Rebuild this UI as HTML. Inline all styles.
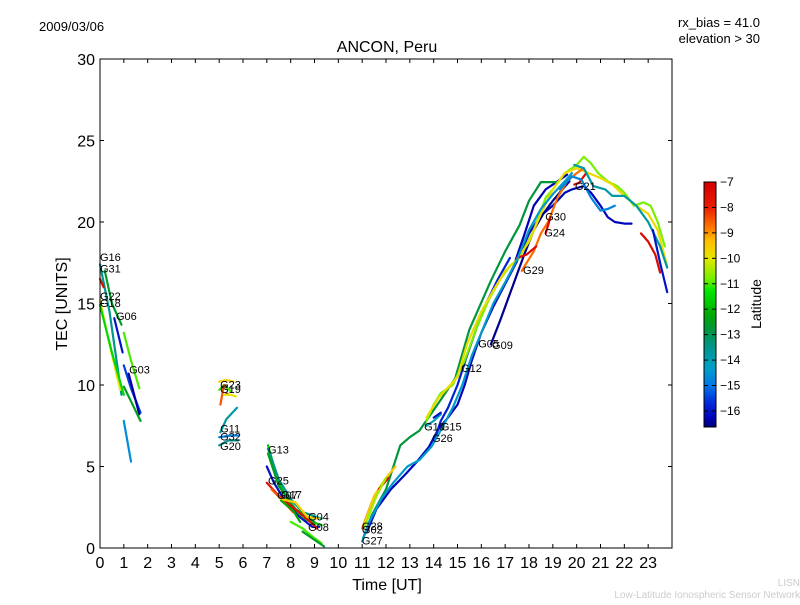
<!DOCTYPE html>
<html><head><meta charset="utf-8"><style>
body{margin:0;background:#fff;}
svg text{font-family:"Liberation Sans","DejaVu Sans",sans-serif;}
</style></head><body>
<svg id="chart" width="800" height="600" xmlns="http://www.w3.org/2000/svg">
<rect width="800" height="600" fill="#fff"/>
<text x="39" y="31" font-size="13">2009/03/06</text>
<text x="760" y="27" font-size="13" text-anchor="end">rx_bias = 41.0</text>
<text x="760" y="43" font-size="13" text-anchor="end">elevation &gt; 30</text>
<text x="387" y="52" font-size="16" text-anchor="middle">ANCON, Peru</text>
<text x="387" y="590" font-size="16" text-anchor="middle">Time [UT]</text>
<text transform="translate(67,304) rotate(-90)" font-size="16" text-anchor="middle">TEC [UNITS]</text>
<g id="marks"></g>
<rect x="100" y="59" width="572" height="489" fill="none" stroke="#000" stroke-width="1"/>
<g id="axes"></g>
<g id="cbar"></g>
<text transform="translate(761,304) rotate(-90)" font-size="14" text-anchor="middle">Latitude</text>
<text x="800" y="586" font-size="10" fill="#ccc" text-anchor="end">LISN</text>
<text x="800" y="598" font-size="10" fill="#ccc" text-anchor="end">Low-Latitude Ionospheric Sensor Network</text>
</svg>
<script>
const xTicks=[0,1,2,3,4,5,6,7,8,9,10,11,12,13,14,15,16,17,18,19,20,21,22,23];
const yTicks=[0,5,10,15,20,25,30];
const cbTicks=[-7,-8,-9,-10,-11,-12,-13,-14,-15,-16];
const latRange=[-16.63,-7];
const trackLats=[-13.5,-7.5,-12.6,-10,-11.5,-16,-11,-15.5,-16.4,-12.5,-14.6,
 -9.6,-11,-8.5,-7.4,-10,-13.8,-14.8,-13.6,
 -11.7,-13.5,-12.5,-16,-7.5,-8.5,-9.6,-11,-12.2,-12.6,
 -16.2,-16.5,-15.8,-16.3,-12.8,-10.8,-9.8,-8.7,-7.3,-7.3,-7.3,-7.3,-13.8,-16,-14.8,-8.6,-9.5,-7.5,-10.5,-14.4,-14.2,-16];
const trackT=[
[0,0.4,0.9],[0,0.15],[0.2,0.5,0.9],[0,0.4,0.85],[0,0.5,1.0],[0.6,0.95],[1.0,1.3,1.65],[1.0,1.3,1.7],[1.2,1.65],[1.0,1.3,1.7],[1.0,1.3],
[5.0,5.3,5.6],[5.0,5.2,5.5],[5.05,5.2],[5.3,5.4],[5.2,5.5,5.7],[5.05,5.3,5.75],[5.0,5.5,5.8],[5.0,5.4,5.8],
[7.05,7.5,8.0,8.5,9.3],[7.05,7.5,8,8.5,9.3],[7.05,7.5,8.2,9.0],[7.0,7.3,7.8,8.3,8.9,9.2],[7.0,7.5,8,8.5,8.9,9.1],[7.2,7.6,8.1],[7.6,8.2,8.7,9.2],[8.0,8.5,9.0,9.3],[7.6,8.1,8.4],[8.5,9,9.4],
[11.2,11.6,12.2,12.8,13.3,13.8,14.2,14.6,15,15.3,15.6,16,16.5,17,17.5,18,18.5,19,19.5,19.8,20.3,20.6,21,21.3,21.6,22,22.3],
[16.4,16.8,17.3,17.8,18.2,18.6,19,19.4,19.7],
[14,14.3,14.6,15,15.4,15.8,16.2,16.7,17.2],
[17.4,17.8,18.2,18.7,19.2,19.6],
[11.04,11.4,12,12.6,13,13.4,14.3,14.9,15.5,16.4,17,17.6,18,18.5,19.2],
[13.7,14,14.3,14.8,15.3,15.8,16.3,16.8,17.2,17.6,18.2,18.7,19,19.5,20,20.3,20.6,20.9,21.3,21.7,22,22.4,22.8,23.1,23.4,23.7],
[13.7,14.2,14.7,15,15.4,16,16.5,17,17.5,18,18.5,19,19.5,20,20.5,21,21.5,22,22.5,23,23.4,23.8],
[17.7,17.9,18.2,18.5,18.8,19.2,19.6,20,20.3],
[17.5,17.9,18.3],[18.7,18.9],[19.9,20.1,20.4],[22.7,23,23.3,23.5],
[19.9,20.3,20.7,21.2,21.5,22,22.5,23,23.5,23.8],
[23.2,23.5,23.8],
[19.3,19.8,20.2,20.6,21,21.3,21.6],
[11.0,11.4,11.8,12.1],[11.1,11.5,12.0,12.4],[11.7,12.1],[11.1,11.6,12.0],
[11.0,11.3,11.8,12.3,12.9,13.4,13.9,14.4,14.8,15.2,15.6,16,16.5,17,17.5,18,18.5,19,19.5,19.8],
[13.7,14,14.3],[14,14.3]];
const trackV=[
[17.4,14.5,9.4],[16.5,16],[17,15,13.7],[15.2,12.5,9.7],[14.9,12,9.4],[14.1,12],[13.2,11.5,9.8],[11.2,9.8,8.3],[10.7,8.2],[9.9,9,7.8],[7.8,5.3],
[10.2,10.3,10.2],[9.7,10,9.6],[8.8,10],[9.5,9.4],[9.4,9.4,9.3],[7.1,7.9,8.6],[6.8,6.9,6.9],[6.3,6.6,6.6],
[6.3,4,2.6,1.8,1.4],[6.1,4.2,3,2.2,1.8],[5.8,3.8,2.4,1.6],[5,4,2.8,2.0,1.3,1.3],[4,3.2,2.6,2,1.5,1.2],[3.6,3,2.2],[3,2.8,1.9,1.8],[1.6,1.2,0.6,0.3],[2.9,2.3,1.6],[1,0.5,0.1],
[1,2.4,3.6,4.5,5.3,6.2,7.3,8,8.8,10,11.5,13.2,14.8,16.2,17.6,19.3,20.4,21,21.8,22,22.2,21.8,21,20.3,20,19.9,19.9],
[12.5,14,16,18,19.5,20.5,21.3,22,22.5],
[6.5,7.8,8.6,10,11.8,13.5,15,16.5,17.8],
[17.5,19.2,21,22,22.5,22.9],
[0.6,2,3.6,6.3,6.8,7.2,9.1,10.4,13.4,16.4,18.2,19.8,21.3,22.45,22.45],
[7.8,8.8,9.5,10,11.5,13.5,15.2,16.5,17.3,17.8,19.5,21.5,22,23,23.5,24,23.6,23,22.5,22.2,21.8,21,21.2,21,20,18.5],
[8,9.2,10,10.5,12.5,14.5,15.8,17,17.7,18.8,20.5,22,23,23.3,23,22.7,22.3,21.6,21,20.5,19.5,17.3],
[17,17.5,18.2,19.3,20,21.5,22.5,23,23.3],
[17.8,18,18.5],[19.3,20.3],[22.3,22.4,23],[19.3,18.8,18,16.9],
[23.5,23.3,22.2,22,21.6,21.6,21,20,18.5,17.2],
[19.5,17.5,15.7],
[22,22.8,22.6,21.5,20.7,20.8,21],
[1.2,2.8,3.8,4.3],[1.5,3.2,4.3,5],[3.6,4.3],[1.3,3.2,4.3],
[0.4,1.6,3,4,5,5.4,6.2,7.5,8.6,10,11.8,13.2,15,16.3,17.7,19.5,20.8,21.7,22.5,23],
[7.5,7.8,8.2],[8,8.3]];
const labelNames=["G16","G31","G22","G18","G06","G03","G23","G19","G11","G32","G20","G13","G25","G07","G17","G04","G08","G28","G02","G27","G10","G15","G26","G12","G05","G09","G29","G24","G30","G21"];
const labelT=[0,0,0,0,0.67,1.22,5.04,5.04,5.04,5.04,5.04,7.05,7.05,7.43,7.6,8.73,8.73,10.99,10.99,10.99,13.6,14.3,13.93,15.15,15.87,16.45,17.75,18.64,18.68,19.93];
const labelV=[17.6,16.9,15.2,14.8,14.0,10.7,9.8,9.5,7.1,6.6,6.0,5.8,3.9,3.0,3.05,1.7,1.03,1.1,0.9,0.2,7.2,7.2,6.5,10.8,12.3,12.2,16.8,19.1,20.1,21.95];

const NS="http://www.w3.org/2000/svg";
const X0=100,X1=672,Y0=548,Y1=59;
function sx(t){return X0+(t/24)*(X1-X0);}
function sy(v){return Y0-(v/30)*(Y0-Y1);}
const CB_TOP=182,CB_BOT=427;
function sc(l){return CB_BOT-(l-latRange[0])/(latRange[1]-latRange[0])*(CB_BOT-CB_TOP);}
const stops=[[-16.63,[0,0,120]],[-16.3,[0,0,180]],[-15.7,[0,40,220]],[-15,[0,120,230]],[-14.3,[0,160,200]],[-13.5,[0,150,140]],[-12.8,[0,150,60]],[-12.2,[0,170,0]],[-11.3,[0,230,0]],[-10.8,[120,240,0]],[-10,[230,230,0]],[-9.3,[255,190,0]],[-8.8,[255,120,0]],[-8,[235,30,0]],[-7,[210,0,0]]];
function latColor(l){
 if(l<=stops[0][0])return `rgb(${stops[0][1]})`;
 for(let i=1;i<stops.length;i++){
  if(l<=stops[i][0]){const a=stops[i-1],b=stops[i];const f=(l-a[0])/(b[0]-a[0]);
   const c=a[1].map((v,k)=>Math.round(v+(b[1][k]-v)*f));return `rgb(${c})`;}
 }
 return `rgb(${stops[stops.length-1][1]})`;
}
function mk(tag,attrs,parent){const e=document.createElementNS(NS,tag);for(const k in attrs)e.setAttribute(k,attrs[k]);parent.appendChild(e);return e;}

const marks=document.getElementById('marks');
for(let i=0;i<trackT.length;i++){
 const pts=trackT[i].map((t,j)=>sx(t).toFixed(1)+','+sy(trackV[i][j]).toFixed(1)).join(' ');
 const p=mk('polyline',{points:pts,fill:'none',stroke:latColor(trackLats[i]),'stroke-width':2.2,'stroke-linejoin':'round','stroke-linecap':'round'},marks);
 
 
}
for(let i=0;i<labelNames.length;i++){
 const tx=mk('text',{x:sx(labelT[i]),y:sy(labelV[i]),'font-size':11},marks);
 tx.textContent=labelNames[i];
 
 
}
const axes=document.getElementById('axes');
xTicks.forEach(t=>{
 const x=sx(t);
 const l=mk('line',{x1:x,x2:x,y1:Y0,y2:Y0-4,stroke:'#000'},axes);
 
 
 mk('line',{x1:x,x2:x,y1:Y1,y2:Y1+4,stroke:'#000'},axes);
 const tx=mk('text',{x:x,y:568,'font-size':16,'text-anchor':'middle'},axes);
 tx.textContent=t;
 
 
});
yTicks.forEach(v=>{
 const y=sy(v);
 const l=mk('line',{x1:X0,x2:X0+4,y1:y,y2:y,stroke:'#000'},axes);
 
 
 mk('line',{x1:X1,x2:X1-4,y1:y,y2:y,stroke:'#000'},axes);
 const tx=mk('text',{x:95,y:y+6,'font-size':16,'text-anchor':'end'},axes);
 tx.textContent=v;
 
 
});
const cb=document.getElementById('cbar');
for(let y=CB_TOP;y<CB_BOT;y++){
 const l=latRange[0]+(CB_BOT-y-0.5)/(CB_BOT-CB_TOP)*(latRange[1]-latRange[0]);
 mk('rect',{x:704,y:y,width:12,height:1.2,fill:latColor(l)},cb);
}
const frame=mk('rect',{x:704,y:CB_TOP,width:12,height:CB_BOT-CB_TOP,fill:'none',stroke:'#000'},cb);


cbTicks.forEach(l=>{
 const y=sc(l);
 mk('line',{x1:704,x2:708,y1:y,y2:y,stroke:'#000'},cb);
 mk('line',{x1:716,x2:712,y1:y,y2:y,stroke:'#000'},cb);
 const tx=mk('text',{x:720,y:y+4,'font-size':12},cb);
 tx.textContent='\u2212'+Math.abs(l);
 
 
});
</script>
</body></html>
